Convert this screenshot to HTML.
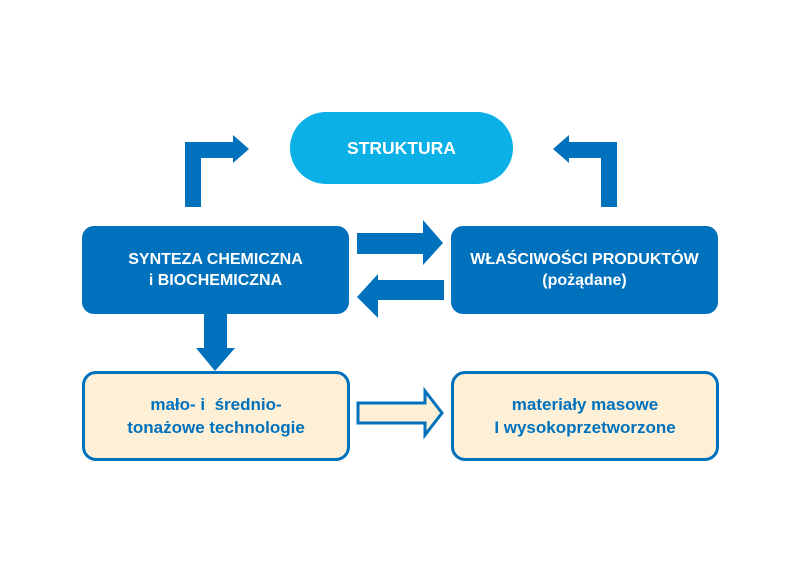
<!DOCTYPE html>
<html><head><meta charset="utf-8"><style>
body{margin:0;width:805px;height:563px;background:#fff;position:relative;overflow:hidden;font-family:"Liberation Sans",sans-serif;font-weight:bold}
.b{position:absolute;display:flex;align-items:center;justify-content:center;text-align:center;font-size:16px;line-height:21px}
.d{background:#0071bc;color:#fff;border-radius:12px}
.l{background:#fdf0d6;color:#0071bc;border:3px solid #0071bc;border-radius:14px;box-sizing:border-box;font-size:17px;line-height:23px}
</style></head><body>
<svg width="805" height="563" style="position:absolute;left:0;top:0">
<g fill="#0071bc">
<polygon points="185,207 201,207 201,158 233,158 233,163 249,149 233,135 233,142 185,142"/>
<polygon points="617,207 601,207 601,158 569,158 569,163 553,149 569,135 569,142 617,142"/>
<polygon points="357,233 423,233 423,220 443,243 423,265 423,254 357,254"/>
<polygon points="444,280 378,280 378,274 357,297 378,318 378,300 444,300"/>
<polygon points="204,314 227,314 227,348 235,348 215,371 196,348 204,348"/>
</g>
<polygon points="358,403 425,403 425,391 442,413 425,435 425,423 358,423" fill="#fdf0d6" stroke="#0071bc" stroke-width="3"/>
</svg>
<div class="b" style="left:290px;top:112px;width:223px;height:72px;background:#0bb0e6;color:#fff;border-radius:36px;font-size:17.5px">STRUKTURA</div>
<div class="b d" style="left:82px;top:226px;width:267px;height:88px">SYNTEZA CHEMICZNA<br>i BIOCHEMICZNA</div>
<div class="b d" style="left:451px;top:226px;width:267px;height:88px">WŁAŚCIWOŚCI PRODUKTÓW<br>(pożądane)</div>
<div class="b l" style="left:82px;top:371px;width:268px;height:90px">mało- i &nbsp;średnio-<br>tonażowe technologie</div>
<div class="b l" style="left:451px;top:371px;width:268px;height:90px">materiały masowe<br>I wysokoprzetworzone</div>
</body></html>
